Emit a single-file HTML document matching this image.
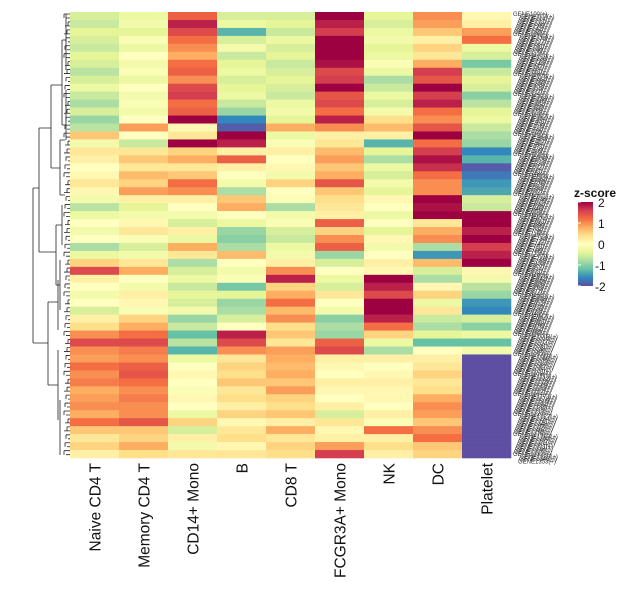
<!DOCTYPE html>
<html><head><meta charset="utf-8"><style>
body{margin:0;background:#fff;}
svg{display:block;font-family:"Liberation Sans",sans-serif;}
</style></head><body>
<svg id="chart" width="640" height="591">
<defs><linearGradient id="grad" x1="0" y1="1" x2="0" y2="0">
<stop offset="0" stop-color="#5E4FA2"/><stop offset="0.1" stop-color="#3288BD"/><stop offset="0.2" stop-color="#66C2A5"/><stop offset="0.3" stop-color="#ABDDA4"/><stop offset="0.4" stop-color="#E6F598"/><stop offset="0.5" stop-color="#FFFFBF"/><stop offset="0.6" stop-color="#FEE08B"/><stop offset="0.7" stop-color="#FDAE61"/><stop offset="0.8" stop-color="#F46D43"/><stop offset="0.9" stop-color="#D53E4F"/><stop offset="1" stop-color="#9E0142"/>
</linearGradient></defs>
<g id="cells"></g>
<g id="dendro" stroke="#222" stroke-width="0.8" fill="none"></g>
<g id="rowlabels"></g>
<g id="collabels"></g>
<g>
<text x="574" y="197" font-size="12" font-weight="bold" fill="#111">z-score</text>
<rect x="578" y="202" width="15" height="84" fill="url(#grad)"/>
<g id="legticks" font-size="12" fill="#111"></g>
</g>
</svg>
<script>
const columns=["Naive CD4 T","Memory CD4 T","CD14+ Mono","B","CD8 T","FCGR3A+ Mono","NK","DC","Platelet"];
const naiveCD4=[-0.5,-0.6,-0.4,-0.5,-0.6,-0.4,-0.5,-0.7,-0.5,-0.3,-0.6,-0.8,-0.5,-0.9,-0.7,0.6,-0.2,0.3,0.2,0,0.1,0.3,0.1,-0.2,-0.7,-0.3,0,-0.2,0,-0.8,-0.3,0.5,1.5,0.2,0,-0.2,0,-0.5,0.2,0.4,1.0,1.5,1.0,0.9,1.2,1.0,1.1,0.8,0.9,1.0,0.8,1.2,0.6,0.3,0.5,0.2];
const memoryCD4=[-0.3,-0.2,-0.4,-0.1,-0.3,0,-0.2,-0.1,-0.3,0,-0.2,-0.1,-0.2,0,0.9,0,-0.6,0.3,0.6,0.3,0.7,0.5,0.9,0.2,-0.4,-0.2,0.1,0.3,-0.1,-0.5,-0.2,0.3,0.8,0,-0.2,0.2,0.1,-0.1,0.5,0.8,1.2,1.5,1.1,1.0,1.3,1.4,1.2,1.0,1.1,1.0,1.0,1.4,0.6,0.5,0.8,0.4];
const cd14Mono=[1.3,1.8,1.5,1.2,1.0,0.8,1.2,1.3,1.0,1.5,1.6,1.2,1.3,2.0,0.1,0.3,2.0,0.5,0.8,0.3,0.6,1.2,1.0,0.2,0,-0.2,-0.5,0.2,-0.3,0.8,0.3,-0.8,-0.5,-0.3,-0.6,-0.4,-0.5,-0.2,-0.9,-0.6,-1.2,-0.7,-1.3,-0.3,0,0.1,0,-0.1,0.1,0,-0.3,0.5,-0.5,0.2,-0.2,0.3];
const bCell=[-0.5,-0.3,-1.3,-0.5,-0.2,-0.6,-0.4,-0.3,-0.5,-0.4,-0.3,-0.6,-0.9,-1.6,-1.9,2.0,1.8,0.2,1.3,0.2,0,-0.2,-0.8,0.6,0.8,0,-0.3,-0.9,-1.0,-0.8,0.7,0,-0.2,-0.1,-1.1,-0.4,-0.9,-0.8,-0.5,0,1.8,1.5,1.0,0.3,0.5,0.4,0.6,0.3,0.4,0.2,0.5,0.1,0.3,0.4,0.1,0.3];
const cd8T=[-0.5,-0.4,-0.6,-0.3,-0.5,-0.4,-0.6,-0.5,-0.4,-0.5,-0.6,-0.3,-0.2,-0.4,0.8,-0.3,-0.1,0.2,0,0.1,-0.2,0.5,0,-0.1,-0.8,-0.2,-0.1,-0.5,-0.6,-0.3,-0.2,0.2,1.0,1.8,0.5,0.8,1.2,0.7,1.0,0.4,0.6,0.3,0.9,0.8,0.7,0.8,0.6,0.9,0.5,0.4,0.6,0.2,0.8,0.3,0.5,0.4];
const fcgr3aMono=[2.0,1.8,1.6,2.0,2.0,2.0,1.9,1.5,1.6,2.0,1.4,1.5,1.2,1.8,1.0,0.2,0.3,0.7,0.9,0.6,0.8,1.4,0.6,0.4,0.3,0.2,1.3,0.5,1.0,1.3,-0.9,-0.5,0,-0.3,-0.5,0.3,0,-0.2,-1.0,-0.8,-0.9,1.3,1.5,0.2,0.1,0,0.2,0.1,0,0.2,-0.5,0.3,0.1,0.2,0.9,1.6];
const nk=[-0.4,-0.5,-0.3,-0.2,-0.4,-0.3,-0.1,-0.3,-0.8,-0.6,-0.3,-0.5,-0.2,0.4,0.7,0.2,-1.3,-0.4,-0.8,-0.3,-0.5,-0.2,-0.4,0.1,0,-0.3,0,-0.4,0.1,-0.2,0,0.2,0.1,2.0,1.8,1.5,2.0,2.0,1.8,1.2,0.5,-0.3,-0.8,0.2,0,0.1,0.2,0.1,0.1,0,0.2,-0.1,1.2,0.2,0.4,0.2];
const dc=[1.0,0.9,0.6,0.2,0.5,0.3,0.8,1.6,1.4,2.0,1.6,1.8,1.2,1.0,1.4,2.0,1.2,1.6,1.9,1.7,1.2,1.0,1.0,2.0,1.9,2.0,0.3,0.8,1.0,-0.8,-1.5,0.7,-0.5,-0.8,0.1,0.5,-0.3,0.3,-0.6,-0.8,-0.4,-1.2,0,0.2,0.3,0.5,0.3,0.4,0.8,1.0,0.9,0.6,1.0,1.2,0.6,0.5];
const platelet=[0.1,0.2,0.9,1.2,-0.3,-0.5,-1.1,-0.6,-0.4,-0.5,-1.0,-0.7,-0.4,-0.3,-0.6,-0.8,-0.9,-1.6,-1.3,-1.9,-1.7,-1.5,-1.4,-0.5,-0.6,2.0,2.0,1.8,2.0,1.6,1.8,2.0,0.1,-0.2,-0.7,-0.9,-1.5,-1.6,-0.5,-1.0,-0.3,-1.2,-0.2,-2,-2,-2,-2,-2,-2,-2,-2,-2,-2,-2,-2,-2];
const series=[naiveCD4,memoryCD4,cd14Mono,bCell,cd8T,fcgr3aMono,nk,dc,platelet];
const legendTicks=[2,1,0,-1,-2];

const NS="http://www.w3.org/2000/svg";
const X0=70,X1=511,Y0=12,Y1=458;
const colW=(X1-X0)/columns.length;
const nRows=naiveCD4.length, rowH=(Y1-Y0)/nRows;
const xScale=i=>X0+i*colW;
const yScale=r=>Y0+r*rowH;
const stops=["#5E4FA2","#3288BD","#66C2A5","#ABDDA4","#E6F598","#FFFFBF","#FEE08B","#FDAE61","#F46D43","#D53E4F","#9E0142"];
function hex(h){return [1,3,5].map(i=>parseInt(h.substr(i,2),16));}
function color(v){let t=(Math.max(-2,Math.min(2,v))+2)/4*10;let i=Math.min(9,Math.floor(t)),f=t-i;
const a=hex(stops[i]),b=hex(stops[i+1]);return "rgb("+a.map((c,k)=>Math.round(c+(b[k]-c)*f)).join(",")+")";}
const cells=document.getElementById('cells');
series.forEach((vals,c)=>{vals.forEach((v,r)=>{
 const rc=document.createElementNS(NS,'rect');
 rc.setAttribute('x',xScale(c));rc.setAttribute('y',yScale(r));
 rc.setAttribute('width',colW+0.3);rc.setAttribute('height',rowH+0.3);
 rc.setAttribute('fill',color(v));
 
 
 cells.appendChild(rc);});});
const cl=document.getElementById('collabels');
columns.forEach((n,i)=>{const t=document.createElementNS(NS,'text');
 const cx=xScale(i)+colW/2+6;
 t.setAttribute('transform','translate('+cx+',463) rotate(-90)');
 t.setAttribute('text-anchor','end');t.setAttribute('font-size','15.5');t.setAttribute('fill','#111');
 t.textContent=n;
 
 
 cl.appendChild(t);});
const lt=document.getElementById('legticks');
legendTicks.forEach(v=>{const y=202+(2-v)/4*84;
 const t=document.createElementNS(NS,'text');t.setAttribute('x',v<0?595:598);t.setAttribute('y',y+5);t.textContent=v<0?"-"+(-v):String(v);
 
 
 lt.appendChild(t);
 const l=document.createElementNS(NS,'line');l.setAttribute('x1',578);l.setAttribute('x2',581);l.setAttribute('y1',y);l.setAttribute('y2',y);l.setAttribute('stroke','#fff');
 
 
 lt.appendChild(l);});
const d=document.getElementById('dendro');
function seg(p){const e=document.createElementNS(NS,'path');e.setAttribute('d',p);
 
 
 d.appendChild(e);}
seg("M33,188V343M33,188H39M33,343H48");
seg("M39,128V252M39,128H51M39,252H56");
seg("M51,85V168M51,85H62M51,168H60");
seg("M56,225V285M56,225H62M56,285H60");
seg("M48,302V385M48,302H58M48,385H58");
seg("M62,40V125M62,40H66M62,125H66");
seg("M60,140V195M60,140H65M60,195H65");
seg("M62,205V245M60,260V310M58,280V330M58,350V420M60,400V455M66,14V70M66,90V140");
let lines="";
for(let r=0;r<112;r++){const y=Y0+2+r*3.97;const x=64+((r*37)%5);lines+="M"+x+","+y+"H70";if(r%2==0)lines+="M"+x+","+y+"V"+(y+4);}
seg(lines);
const rl=document.getElementById('rowlabels');
for(let r=0;r<180;r++){const t=document.createElementNS(NS,'text');
 const y=Y0+4+r*2.5;t.setAttribute('x',513+(r*7)%8);t.setAttribute('y',y);
 t.setAttribute('font-size','6');t.setAttribute('fill','#333');
 t.textContent="GENE"+(100+r*7)+"(+)";
 
 
 rl.appendChild(t);}
</script>
</body></html>
